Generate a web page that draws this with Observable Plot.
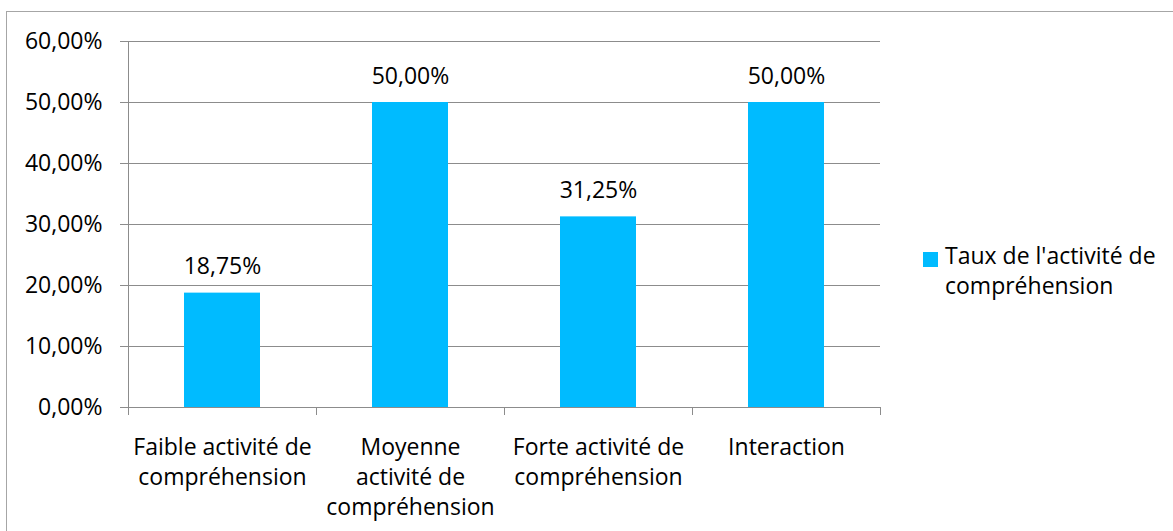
<!DOCTYPE html>
<html>
<head>
<meta charset="utf-8">
<script src="https://cdn.jsdelivr.net/npm/d3@7"></script>
<script src="https://cdn.jsdelivr.net/npm/@observablehq/plot@0.6"></script>
<style>
  html, body { margin: 0; padding: 0; background: #fff; overflow: hidden; }
  #wrap { position: relative; width: 1173px; height: 531px; font-family: "Open Sans", sans-serif; }
  #border { position: absolute; left: 6px; top: 11px; width: 1300px; height: 700px; border: 1px solid #a6a6a6; box-sizing: border-box; pointer-events: none; }
  #chart { position: absolute; left: 0; top: 0; }
  #legend { position: absolute; left: 923px; top: 240px; }
  #legend .sw { position: absolute; left: 0; top: 12px; width: 15px; height: 15px; background: #00BBFF; }
  #legend .tx { position: absolute; left: 22px; top: 0; width: 250px; font-size: 23px; line-height: 30px; color: #000; white-space: nowrap; }
</style>
</head>
<body>
<div id="wrap">
  <div id="chart"></div>
  <div id="border"></div>
  <div id="legend"><div class="sw"></div><div class="tx">Taux de l'activité de<br>compréhension</div></div>
</div>
<script>
const categories = [
  "Faible activité de compréhension",
  "Moyenne activité de compréhension",
  "Forte activité de compréhension",
  "Interaction"
];
const tickLabels = [
  "Faible activité de\ncompréhension",
  "Moyenne\nactivité de\ncompréhension",
  "Forte activité de\ncompréhension",
  "Interaction"
];
const values = [0.1875, 0.50, 0.3125, 0.50];
const yTicks = [0, 0.1, 0.2, 0.3, 0.4, 0.5, 0.6];
const seriesName = "Taux de l'activité de compréhension";

const data = categories.map((c, i) => ({cat: c, value: values[i]}));
const fmt = d => (d * 100).toFixed(2).replace(".", ",") + "%";
const wrapLabel = c => tickLabels[categories.indexOf(c)];

const W = 1173, H = 531, mL = 128, mR = 293, mT = 41, mB = 124;
const step = (W - mL - mR) / categories.length;
const gridColor = "#8c8c8c";
const barColor = "#00BBFF";
const FS = 23;

const chart = Plot.plot({
  width: W, height: H,
  marginLeft: mL, marginRight: mR, marginTop: mT, marginBottom: mB,
  style: {fontFamily: "Open Sans, sans-serif", fontSize: FS + "px", color: "#000", background: "transparent"},
  x: {domain: categories, padding: 0, axis: null},
  y: {domain: [0, 0.6], axis: null},
  marks: [
    Plot.gridY(yTicks, {stroke: gridColor, strokeOpacity: 1}),
    Plot.axisY(yTicks, {label: null, tickSize: 8, tickPadding: 18, tickFormat: fmt, stroke: gridColor, strokeOpacity: 1, fontSize: FS}),
    Plot.barY(data, {x: "cat", y: "value", fill: barColor, insetLeft: 56, insetRight: 56}),
    Plot.ruleY([0], {stroke: gridColor}),
    Plot.ruleX([categories[0]], {x: d => d, y1: 0, y2: 0.6, dx: -step / 2, stroke: gridColor}),
    Plot.ruleX(categories, {x: d => d, y1: 0, y2: 0, insetBottom: -8, dx: -step / 2, stroke: gridColor}),
    Plot.ruleX([categories[categories.length - 1]], {x: d => d, y1: 0, y2: 0, insetBottom: -8, dx: step / 2, stroke: gridColor}),
    Plot.text(data, {x: "cat", y: "value", text: d => fmt(d.value), dy: -19, lineAnchor: "bottom", fontSize: FS, fill: "#000"}),
    Plot.axisX({label: null, tickSize: 0, tickPadding: 26, tickFormat: wrapLabel, lineHeight: 30 / FS, fontSize: FS, fill: "#000"})
  ]
});
document.getElementById("chart").appendChild(chart);
</script>
</body>
</html>
